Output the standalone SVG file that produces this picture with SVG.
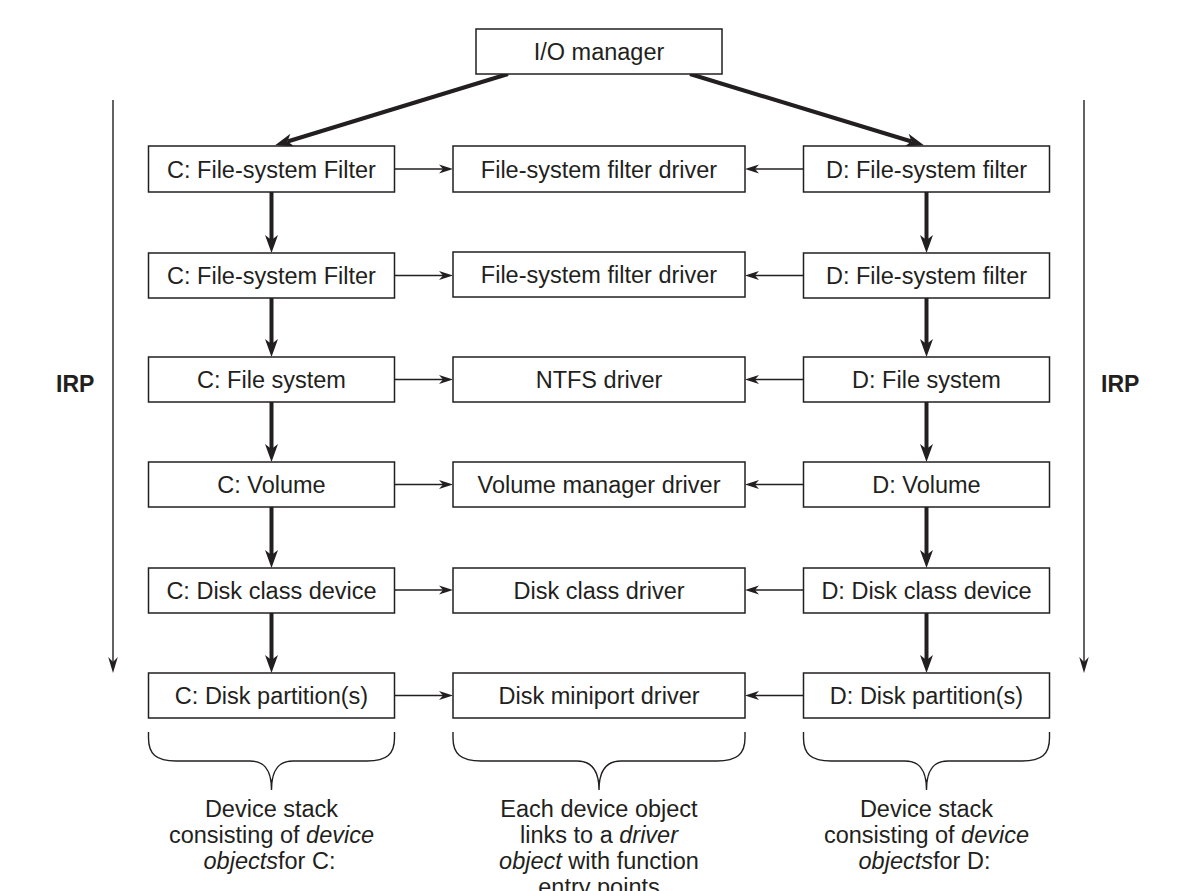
<svg xmlns="http://www.w3.org/2000/svg" width="1181" height="891" viewBox="0 0 1181 891">
<style>
.box{fill:#fff;stroke:#231f20;stroke-width:1.5}
.t{font-family:"Liberation Sans",Arial,sans-serif;font-size:23.5px;fill:#231f20;text-anchor:middle}
.irp{font-family:"Liberation Sans",Arial,sans-serif;font-size:23px;font-weight:bold;fill:#231f20}
.thick{stroke:#231f20;stroke-width:4;fill:none}
.thin{stroke:#231f20;stroke-width:1.4;fill:none}
.brace{stroke:#231f20;stroke-width:1.4;fill:none}
.i{font-style:italic}
</style>
<defs>
<marker id="ah" markerUnits="userSpaceOnUse" markerWidth="20" markerHeight="16" viewBox="0 -8 20 16" refX="5" refY="0" orient="auto">
<path d="M0,-6.5 L18,0 L0,6.5 L5,0 Z" fill="#231f20"/>
</marker>
<marker id="as" markerUnits="userSpaceOnUse" markerWidth="16" markerHeight="12" viewBox="0 -6 16 12" refX="4" refY="0" orient="auto">
<path d="M0,-4.5 L14,0 L0,4.5 L4,0 Z" fill="#231f20"/>
</marker>
<marker id="al" markerUnits="userSpaceOnUse" markerWidth="18" markerHeight="12" viewBox="0 -6 18 12" refX="5" refY="0" orient="auto">
<path d="M0,-4.8 L16,0 L0,4.8 L5,0 Z" fill="#231f20"/>
</marker>
</defs>

<g id="connectors">
<line class="thick" x1="508" y1="74" x2="287.5" y2="141.5" marker-end="url(#ah)"/>
<line class="thick" x1="690" y1="74" x2="911.5" y2="141.5" marker-end="url(#ah)"/>
<line class="thick" x1="271.5" y1="192" x2="271.5" y2="240" marker-end="url(#ah)"/>
<line class="thick" x1="271.5" y1="298" x2="271.5" y2="344" marker-end="url(#ah)"/>
<line class="thick" x1="271.5" y1="402" x2="271.5" y2="449" marker-end="url(#ah)"/>
<line class="thick" x1="271.5" y1="507" x2="271.5" y2="555" marker-end="url(#ah)"/>
<line class="thick" x1="271.5" y1="613" x2="271.5" y2="660" marker-end="url(#ah)"/>
<line class="thick" x1="926.5" y1="192" x2="926.5" y2="240" marker-end="url(#ah)"/>
<line class="thick" x1="926.5" y1="298" x2="926.5" y2="344" marker-end="url(#ah)"/>
<line class="thick" x1="926.5" y1="402" x2="926.5" y2="449" marker-end="url(#ah)"/>
<line class="thick" x1="926.5" y1="507" x2="926.5" y2="555" marker-end="url(#ah)"/>
<line class="thick" x1="926.5" y1="613" x2="926.5" y2="660" marker-end="url(#ah)"/>
<line class="thin" x1="394" y1="169" x2="443" y2="169" marker-end="url(#as)"/>
<line class="thin" x1="394" y1="275.5" x2="443" y2="275.5" marker-end="url(#as)"/>
<line class="thin" x1="394" y1="379.5" x2="443" y2="379.5" marker-end="url(#as)"/>
<line class="thin" x1="394" y1="484.5" x2="443" y2="484.5" marker-end="url(#as)"/>
<line class="thin" x1="394" y1="590" x2="443" y2="590" marker-end="url(#as)"/>
<line class="thin" x1="394" y1="695.5" x2="443" y2="695.5" marker-end="url(#as)"/>
<line class="thin" x1="804" y1="169" x2="755" y2="169" marker-end="url(#as)"/>
<line class="thin" x1="804" y1="275.5" x2="755" y2="275.5" marker-end="url(#as)"/>
<line class="thin" x1="804" y1="379.5" x2="755" y2="379.5" marker-end="url(#as)"/>
<line class="thin" x1="804" y1="484.5" x2="755" y2="484.5" marker-end="url(#as)"/>
<line class="thin" x1="804" y1="590" x2="755" y2="590" marker-end="url(#as)"/>
<line class="thin" x1="804" y1="695.5" x2="755" y2="695.5" marker-end="url(#as)"/>
<line class="thin" x1="113" y1="100" x2="113" y2="662" marker-end="url(#al)"/>
<line class="thin" x1="1084" y1="100" x2="1084" y2="662" marker-end="url(#al)"/>
</g>

<g id="io-manager"><rect class="box" x="476" y="29" width="246" height="45"/><text class="t" x="599" y="60">I/O manager</text></g>

<g id="irp-left"><text class="irp" x="56" y="392">IRP</text></g>
<g id="irp-right"><text class="irp" x="1101" y="392">IRP</text></g>

<g id="c1"><rect class="box" x="148.5" y="146" width="246" height="46"/><text class="t" x="271.5" y="177.5">C: File-system Filter</text></g>
<g id="c2"><rect class="box" x="148.5" y="253" width="246" height="45"/><text class="t" x="271.5" y="284">C: File-system Filter</text></g>
<g id="c3"><rect class="box" x="148.5" y="357" width="246" height="45"/><text class="t" x="271.5" y="388">C: File system</text></g>
<g id="c4"><rect class="box" x="148.5" y="462" width="246" height="45"/><text class="t" x="271.5" y="493">C: Volume</text></g>
<g id="c5"><rect class="box" x="148.5" y="568" width="246" height="45"/><text class="t" x="271.5" y="599">C: Disk class device</text></g>
<g id="c6"><rect class="box" x="148.5" y="673" width="246" height="45"/><text class="t" x="271.5" y="704">C: Disk partition(s)</text></g>

<g id="m1"><rect class="box" x="453" y="146" width="292" height="46"/><text class="t" x="599" y="177.5">File-system filter driver</text></g>
<g id="m2"><rect class="box" x="453" y="252" width="292" height="45"/><text class="t" x="599" y="282.5">File-system filter driver</text></g>
<g id="m3"><rect class="box" x="453" y="357" width="292" height="45"/><text class="t" x="599" y="388">NTFS driver</text></g>
<g id="m4"><rect class="box" x="453" y="462" width="292" height="45"/><text class="t" x="599" y="493">Volume manager driver</text></g>
<g id="m5"><rect class="box" x="453" y="568" width="292" height="45"/><text class="t" x="599" y="599">Disk class driver</text></g>
<g id="m6"><rect class="box" x="453" y="673" width="292" height="45"/><text class="t" x="599" y="704">Disk miniport driver</text></g>

<g id="d1"><rect class="box" x="803.5" y="146" width="246" height="46"/><text class="t" x="926.5" y="177.5">D: File-system filter</text></g>
<g id="d2"><rect class="box" x="803.5" y="253" width="246" height="45"/><text class="t" x="926.5" y="284">D: File-system filter</text></g>
<g id="d3"><rect class="box" x="803.5" y="357" width="246" height="45"/><text class="t" x="926.5" y="388">D: File system</text></g>
<g id="d4"><rect class="box" x="803.5" y="462" width="246" height="45"/><text class="t" x="926.5" y="493">D: Volume</text></g>
<g id="d5"><rect class="box" x="803.5" y="568" width="246" height="45"/><text class="t" x="926.5" y="599">D: Disk class device</text></g>
<g id="d6"><rect class="box" x="803.5" y="673" width="246" height="45"/><text class="t" x="926.5" y="704">D: Disk partition(s)</text></g>

<g id="brace-c">
<path class="brace" d="M148.5,732 L148.5,738 C148.5,754 156,761 176,761 L250,761 C263,761 271.5,768 271.5,790 C271.5,768 280,761 293,761 L367,761 C387,761 394.5,754 394.5,738 L394.5,732"/>
<text class="t" x="271.5" y="817">Device stack</text>
<text class="t" x="271.5" y="843">consisting of <tspan class="i">device</tspan></text>
<text class="t" x="269.5" y="869"><tspan class="i">objects</tspan>for C:</text>
</g>
<g id="brace-m">
<path class="brace" d="M453,732 L453,738 C453,754 461,761 481,761 L577,761 C590,761 599,768 599,790 C599,768 608,761 621,761 L717,761 C737,761 745,754 745,738 L745,732"/>
<text class="t" x="599" y="817">Each device object</text>
<text class="t" x="599" y="843">links to a <tspan class="i">driver</tspan></text>
<text class="t" x="599" y="869"><tspan class="i">object</tspan> with function</text>
<text class="t" x="599" y="895">entry points</text>
</g>
<g id="brace-d">
<path class="brace" d="M803.5,732 L803.5,738 C803.5,754 811,761 831,761 L905,761 C918,761 926.5,768 926.5,790 C926.5,768 935,761 948,761 L1022,761 C1042,761 1049.5,754 1049.5,738 L1049.5,732"/>
<text class="t" x="926.5" y="817">Device stack</text>
<text class="t" x="926.5" y="843">consisting of <tspan class="i">device</tspan></text>
<text class="t" x="924.5" y="869"><tspan class="i">objects</tspan>for D:</text>
</g>
</svg>
